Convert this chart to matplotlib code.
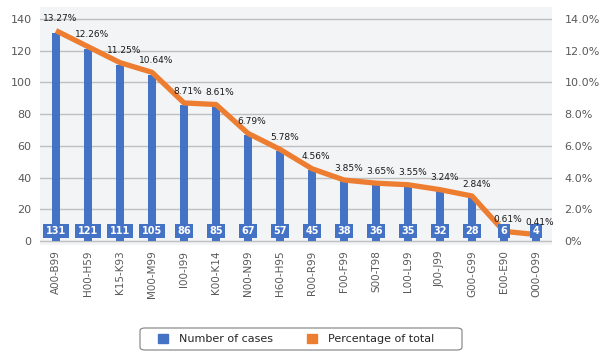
import matplotlib.pyplot as plt
from matplotlib.patches import Patch, FancyBboxPatch
import numpy as np

categories = ['A00-B99', 'H00-H59', 'K15-K93', 'M00-M99', 'I00-I99', 'K00-K14',
              'N00-N99', 'H60-H95', 'R00-R99', 'F00-F99', 'S00-T98', 'L00-L99',
              'J00-J99', 'G00-G99', 'E00-E90', 'O00-O99']
cases = [131, 121, 111, 105, 86, 85, 67, 57, 45, 38, 36, 35, 32, 28, 6, 4]
percent = [13.27, 12.26, 11.25, 10.64, 8.71, 8.61, 6.79, 5.78, 4.56, 3.85,
           3.65, 3.55, 3.24, 2.84, 0.61, 0.41]

blue = '#4472C4'
orange = '#ED7D31'
grey_txt = '#595959'

fig = plt.figure(figsize=(6.01, 3.57), dpi=100)
ax = fig.add_axes([40 / 601, 1 - 245 / 357, 512 / 601, 238 / 357])
ax.set_facecolor('#f3f4f6')
ax2 = ax.twinx()

x = np.arange(len(categories))
ax.bar(x, cases, width=0.28, color=blue, zorder=2)
ax.set_xlim(-0.5, len(categories) - 0.5)
ax.set_ylim(-2.5, 147.6)
ax.set_yticks(range(0, 141, 20))
ax.grid(axis='y', color='#bfbfbf', linewidth=1, zorder=0)
ax.set_axisbelow(True)
ax.set_xticks(x)
ax.set_xticklabels(categories, rotation=90, fontsize=7.5, color=grey_txt)
ax.tick_params(axis='both', length=0, pad=4)
ax.tick_params(axis='y', labelsize=8, labelcolor=grey_txt, pad=6)

ax2.plot(x, percent, color=orange, linewidth=3.8, solid_capstyle='butt', zorder=3)
ax2.set_ylim(-0.25, 14.76)
ax2.set_yticks(range(0, 15, 2))
ax2.set_yticklabels(['0%'] + ['%.1f%%' % t for t in range(2, 15, 2)])
ax2.tick_params(axis='y', length=0, pad=9, labelsize=8, labelcolor=grey_txt)

# value boxes at the bottom of the bars (drawn above the line)
for xi, v in zip(x, cases):
    ax2.text(xi, 0.63, str(v), ha='center', va='center', color='white',
             fontsize=7, fontweight='bold', zorder=5,
             bbox=dict(boxstyle='square,pad=0.25', fc=blue, ec='none'))

for xi, p in zip(x, percent):
    ax2.annotate('%.2f%%' % p, (xi, p), xytext=(3, 8.5), textcoords='offset points',
                 ha='center', va='center', fontsize=6.5, color='#1a1a1a', zorder=6)

for a in (ax, ax2):
    for s in a.spines.values():
        s.set_visible(False)

# legend with its own frame
handles = [Patch(color=blue, label='Number of cases'),
           Patch(color=orange, label='Percentage of total')]
leg = fig.legend(handles=handles, loc='center', bbox_to_anchor=(296 / 601, 1 - 339 / 357),
                 ncol=2, fontsize=8, frameon=False,
                 handlelength=0.9, handleheight=0.9, columnspacing=3.0,
                 handletextpad=1.0)
for t in leg.get_texts():
    t.set_color('#262626')
frame = FancyBboxPatch((140 / 601, 1 - 350 / 357), 322 / 601, 22 / 357,
                       boxstyle='round,pad=0,rounding_size=0.008',
                       transform=fig.transFigure, fc='white', ec='#7f7f7f',
                       linewidth=0.8, zorder=0)
fig.patches.append(frame)

fig.savefig('out.png', dpi=100)
